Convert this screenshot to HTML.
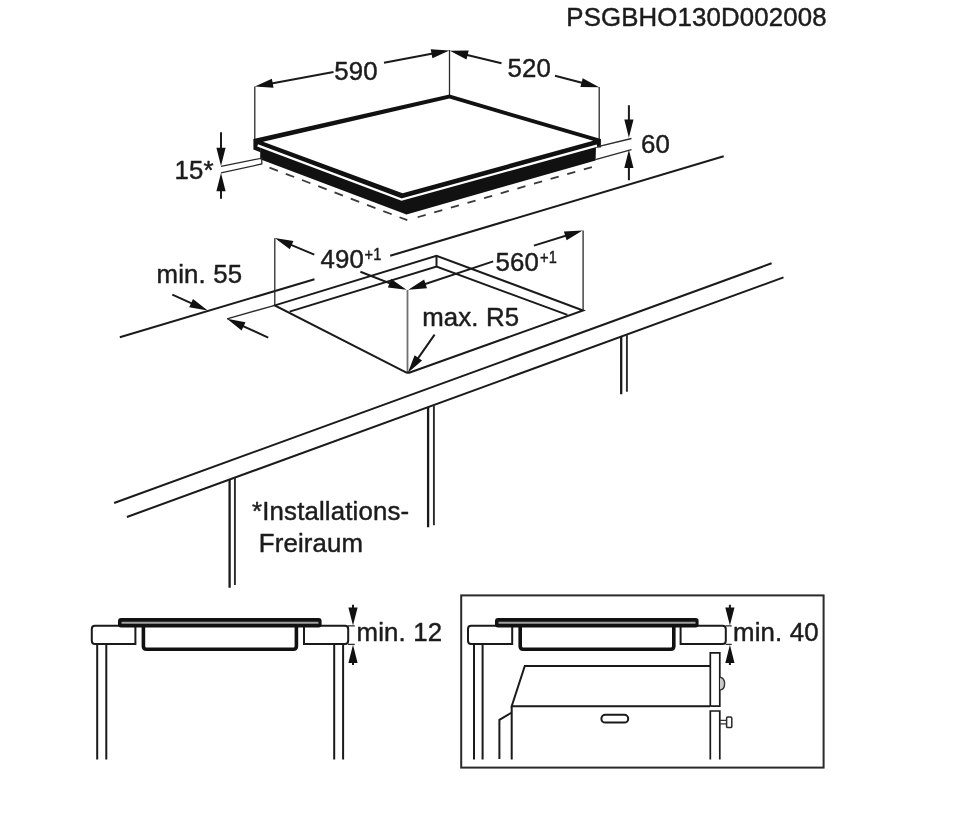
<!DOCTYPE html>
<html lang="de">
<head>
<meta charset="utf-8">
<title>PSGBHO130D002008</title>
<style>
html,body{margin:0;padding:0;background:#fff;}
body{width:972px;height:813px;overflow:hidden;}
svg{display:block;filter:blur(0.45px);}
text{font-family:"Liberation Sans",sans-serif;font-size:25.8px;letter-spacing:0.15px;fill:#1c1c1c;stroke:#1c1c1c;stroke-width:0.45px;stroke-linejoin:round;}
.s{font-size:17px;}
.l{stroke:#1a1a1a;stroke-width:2;fill:none;stroke-linecap:butt;}
.t{stroke:#2a2a2a;stroke-width:1.3;fill:none;}
.k{stroke:#111;stroke-width:3;fill:none;stroke-linejoin:miter;}
.a{fill:#111;stroke:none;}
.d{stroke:#3a3a3a;stroke-width:1.8;fill:none;}
</style>
</head>
<body>
<svg width="972" height="813" viewBox="0 0 972 813">
<rect width="972" height="813" fill="#fff"/>

<!-- title -->
<text x="566.3" y="25.8">PSGBHO130D002008</text>

<!-- ===== hob (isometric) ===== -->
<g id="hob">
  <!-- extension lines -->
  <path class="t" d="M254.8 86.5V140 M449.5 50V96 M599.2 87V140"/>
  <!-- black side bands -->
  <path class="a" d="M260.2 146 L402 199 L596 146 L595.6 160.4 L406.5 214.6 L260.2 159.2 Z"/>
  <!-- glass rim -->
  <path d="M253.4 138.9 L253.4 149.6 L260.5 152.3 L260.5 147 L402 200 L597 147.6 L600.9 147.4 L600.9 138.9 L449.5 94.6 Z" fill="#111"/>
  <path d="M263 141.7 L449.4 98.6 L593.2 140.8 L402.6 193.3 Z" fill="#fff"/>
  <path d="M257.6 145.3 L401.6 199.5 L597 145.7" stroke="#fff" stroke-width="2.3" fill="none"/>
  <!-- dashed outline -->
  <path class="d" d="M269.5 167.6 L407.3 220.2" stroke-dasharray="9 8.4"/>
  <path class="d" d="M417.6 217.25 L593.4 166.6" stroke-dasharray="8.4 8.9"/>
</g>

<!-- 590 dimension -->
<path class="l" d="M333.5 72.0 L260.7 85.5 M384.0 62.7 L443.5 51.5"/>
<path class="a" d="M254.8 86.6 L273.5 87.8 L271.9 78.8 Z M449.4 50.4 L430.7 49.2 L432.4 58.3 Z"/>
<text x="334.3" y="80.2">590</text>
<!-- 520 dimension -->
<path class="l" d="M501.5 63.3 L455.7 52.2 M555.0 75.8 L593.4 85.7"/>
<path class="a" d="M449.9 50.8 L466.5 59.6 L468.7 50.6 Z M599.2 87.2 L582.7 78.2 L580.4 87.1 Z"/>
<text x="507.5" y="76.7">520</text>

<!-- 60 dimension -->
<path class="t" d="M597 146.8 L631.5 138.5 M595.4 159.6 L631.5 149.6"/>
<path class="l" d="M628.9 105.3 L628.9 131.8 M628.9 180.2 L628.9 155.8"/>
<path class="a" d="M628.9 137.8 L633.5 119.6 L624.3 119.6 Z M628.9 149.8 L624.3 168.0 L633.5 168.0 Z"/>
<text x="641" y="152.7">60</text>

<!-- 15* dimension -->
<path class="t" d="M221 166.3 L261.8 158.2 L261.8 164 L221 172.8"/>
<path class="l" d="M221.0 132.3 L221.0 160.0 M221.0 198.7 L221.0 179.0"/>
<path class="a" d="M221.0 166.0 L225.6 147.8 L216.4 147.8 Z M221.0 173.0 L216.4 191.2 L225.6 191.2 Z"/>
<text x="174.6" y="179.3">15*</text>

<!-- ===== worktop ===== -->
<path class="l" d="M119.8 337.3 L314.5 279.2 M390.2 255.7 L723.7 156.3"/>
<path class="l" d="M114.1 503 L771.6 263.3 M126.9 517 L783.5 277.4"/>
<!-- legs -->
<path d="M229.6 479.5V587.7 M428.1 406.8V527.2 M621.2 336.5V394.3" stroke="#1a1a1a" stroke-width="2.3" fill="none"/>
<path d="M234.9 477.5V585 M433.9 404.7V525.3 M626.9 334.4V391.8" stroke="#2a2a2a" stroke-width="1.9" fill="none"/>

<!-- cutout -->
<path class="t" d="M274.8 238.2V305.2 M583.1 230.6V309.9"/>
<path d="M407.5 290V372.5" stroke="#707070" stroke-width="1.8" fill="none"/>
<path class="l" d="M405 371.9 L274.8 305.4 L436.5 255.7 L583.1 310.5 L410.5 372.2 Q407.4 373.4 405 371.9"/>
<path class="l" d="M289.6 311.6 L436.5 266.6 L567.4 314.9 M436.5 255.7V266.6"/>
<path class="t" d="M227 318.8 L274.8 305.3"/>

<!-- min. 55 -->
<path class="l" d="M172.3 294.7 L202.2 308.1 M268.2 337.6 L232.5 321.3"/>
<path class="a" d="M207.7 310.6 L193.0 298.9 L189.2 307.3 Z M227.0 318.8 L241.6 330.5 L245.5 322.2 Z"/>
<text x="156.6" y="283">min. 55</text>

<!-- 490+1 -->
<path class="l" d="M314.3 254.7 L280.3 240.3 M360.4 271.7 L400.9 287.6"/>
<path class="a" d="M274.8 238.0 L289.8 249.3 L293.4 240.9 Z M406.5 289.8 L391.2 278.9 L387.9 287.4 Z"/>
<text x="320.4" y="268.2">490</text>
<text class="s" transform="translate(364.6 260.3) scale(0.86 1)">+1</text>

<!-- 560+1 -->
<path class="l" d="M493.2 261.4 L414.0 287.8 M533.9 245.6 L576.9 232.2"/>
<path class="a" d="M408.3 289.7 L427.0 288.3 L424.1 279.6 Z M582.6 230.4 L563.9 231.4 L566.6 240.2 Z"/>
<text x="495.6" y="270.5">560</text>
<text class="s" transform="translate(540 262.6) scale(0.86 1)">+1</text>

<!-- max. R5 -->
<path class="l" d="M434.6 334.6 L411.3 367.9"/>
<path class="a" d="M407.9 372.8 L422.1 360.5 L414.6 355.2 Z"/>
<text x="422.2" y="326.4">max. R5</text>

<!-- note -->
<text x="252.1" y="520.4">*Installations-</text>
<text x="258.8" y="552">Freiraum</text>

<!-- ===== bottom-left section ===== -->
<g id="sec1">
  <path class="l" d="M97.2 644.5V759.5 M106.3 644.5V759.5 M334.2 644.5V759.5 M343.1 644.5V759.5"/>
  <path class="l" d="M135.4 625.8 H95 Q91.8 625.8 91.8 629 V640.8 Q91.8 644 95 644 H135.4 Z" fill="#fff"/>
  <path class="l" d="M304 625.8 H345 Q348.2 625.8 348.2 629 V640.8 Q348.2 644 345 644 H304 Z" fill="#fff"/>
  <path d="M143.4 626 V646.3 Q143.4 649.3 146.4 649.3 H293.4 Q296.4 649.3 296.4 646.3 V626" stroke="#111" stroke-width="3.6" fill="none"/>
  <rect x="118" y="618.1" width="203.6" height="9.4" rx="3" fill="#111"/>
  <path d="M121.5 622.8 H318.5" stroke="#a2a2a2" stroke-width="2.1" fill="none"/>
  <!-- min. 12 -->
  <path class="t" d="M348 625.8 H354.8 M348 644.4 H354.8"/>
  <path class="l" d="M353.0 604.7 L353.0 619.6 M353.0 665.0 L353.0 650.8"/>
  <path class="a" d="M353.0 625.6 L357.6 607.4 L348.4 607.4 Z M353.0 644.8 L348.4 663.0 L357.6 663.0 Z"/>
  <text x="356.6" y="640.5">min. 12</text>
</g>

<!-- ===== bottom-right section ===== -->
<g id="sec2">
  <rect x="461.2" y="595.4" width="362.4" height="172.2" fill="none" stroke="#2a2a2a" stroke-width="2"/>
  <path class="l" d="M474 644.5V759.5 M482.6 644.5V759.5"/>
  <path class="l" d="M512.2 625.8 H471.2 Q468 625.8 468 629 V640.8 Q468 644 471.2 644 H512.2 Z" fill="#fff"/>
  <path class="l" d="M680.6 625.8 H722.6 Q725.8 625.8 725.8 629 V640.8 Q725.8 644 722.6 644 H680.6 Z" fill="#fff"/>
  <path d="M520.2 626 V646.3 Q520.2 649.3 523.2 649.3 H670.8 Q673.8 649.3 673.8 646.3 V626" stroke="#111" stroke-width="3.6" fill="none"/>
  <rect x="495" y="618.1" width="203.6" height="9.4" rx="3" fill="#111"/>
  <path d="M498.5 622.8 H695.5" stroke="#a2a2a2" stroke-width="2.1" fill="none"/>
  <!-- oven -->
  <path class="l" d="M710.1 666 H524.8 L511.7 706.2 H710.1 M511.7 706.2 V759.5 M511.7 712.5 L499.4 719.8 V759"/>
  <rect class="l" x="601.4" y="714.8" width="26.8" height="7.8" rx="3.9"/>
  <path d="M710.3 706.2 V652.9 H719.8 V706.2 H710.3 M710.3 759.5 V711 H719.8 V759.5" stroke="#1a1a1a" stroke-width="1.7" fill="none"/>
  <path d="M720 677.3 Q724.6 678 724.6 683.7 Q724.6 689.4 720 690.1" stroke="#333" stroke-width="1.4" fill="#c8c8c8"/>
  <path d="M720 720.4 H726.6 M720 723.9 H726.6" stroke="#333" stroke-width="1.2" fill="none"/><rect x="726.6" y="717" width="5.2" height="10.6" rx="1.2" stroke="#2a2a2a" stroke-width="1.5" fill="#fff"/>
  <!-- min. 40 -->
  <path class="t" d="M725.6 625.8 H731.7 M725.6 644.4 H731.7"/>
  <path class="l" d="M729.9 604.7 L729.9 619.6 M729.9 665.0 L729.9 650.8"/>
  <path class="a" d="M729.9 625.6 L734.5 607.4 L725.3 607.4 Z M729.9 644.8 L725.3 663.0 L734.5 663.0 Z"/>
  <text x="733" y="640.5">min. 40</text>
</g>
</svg>
</body>
</html>
